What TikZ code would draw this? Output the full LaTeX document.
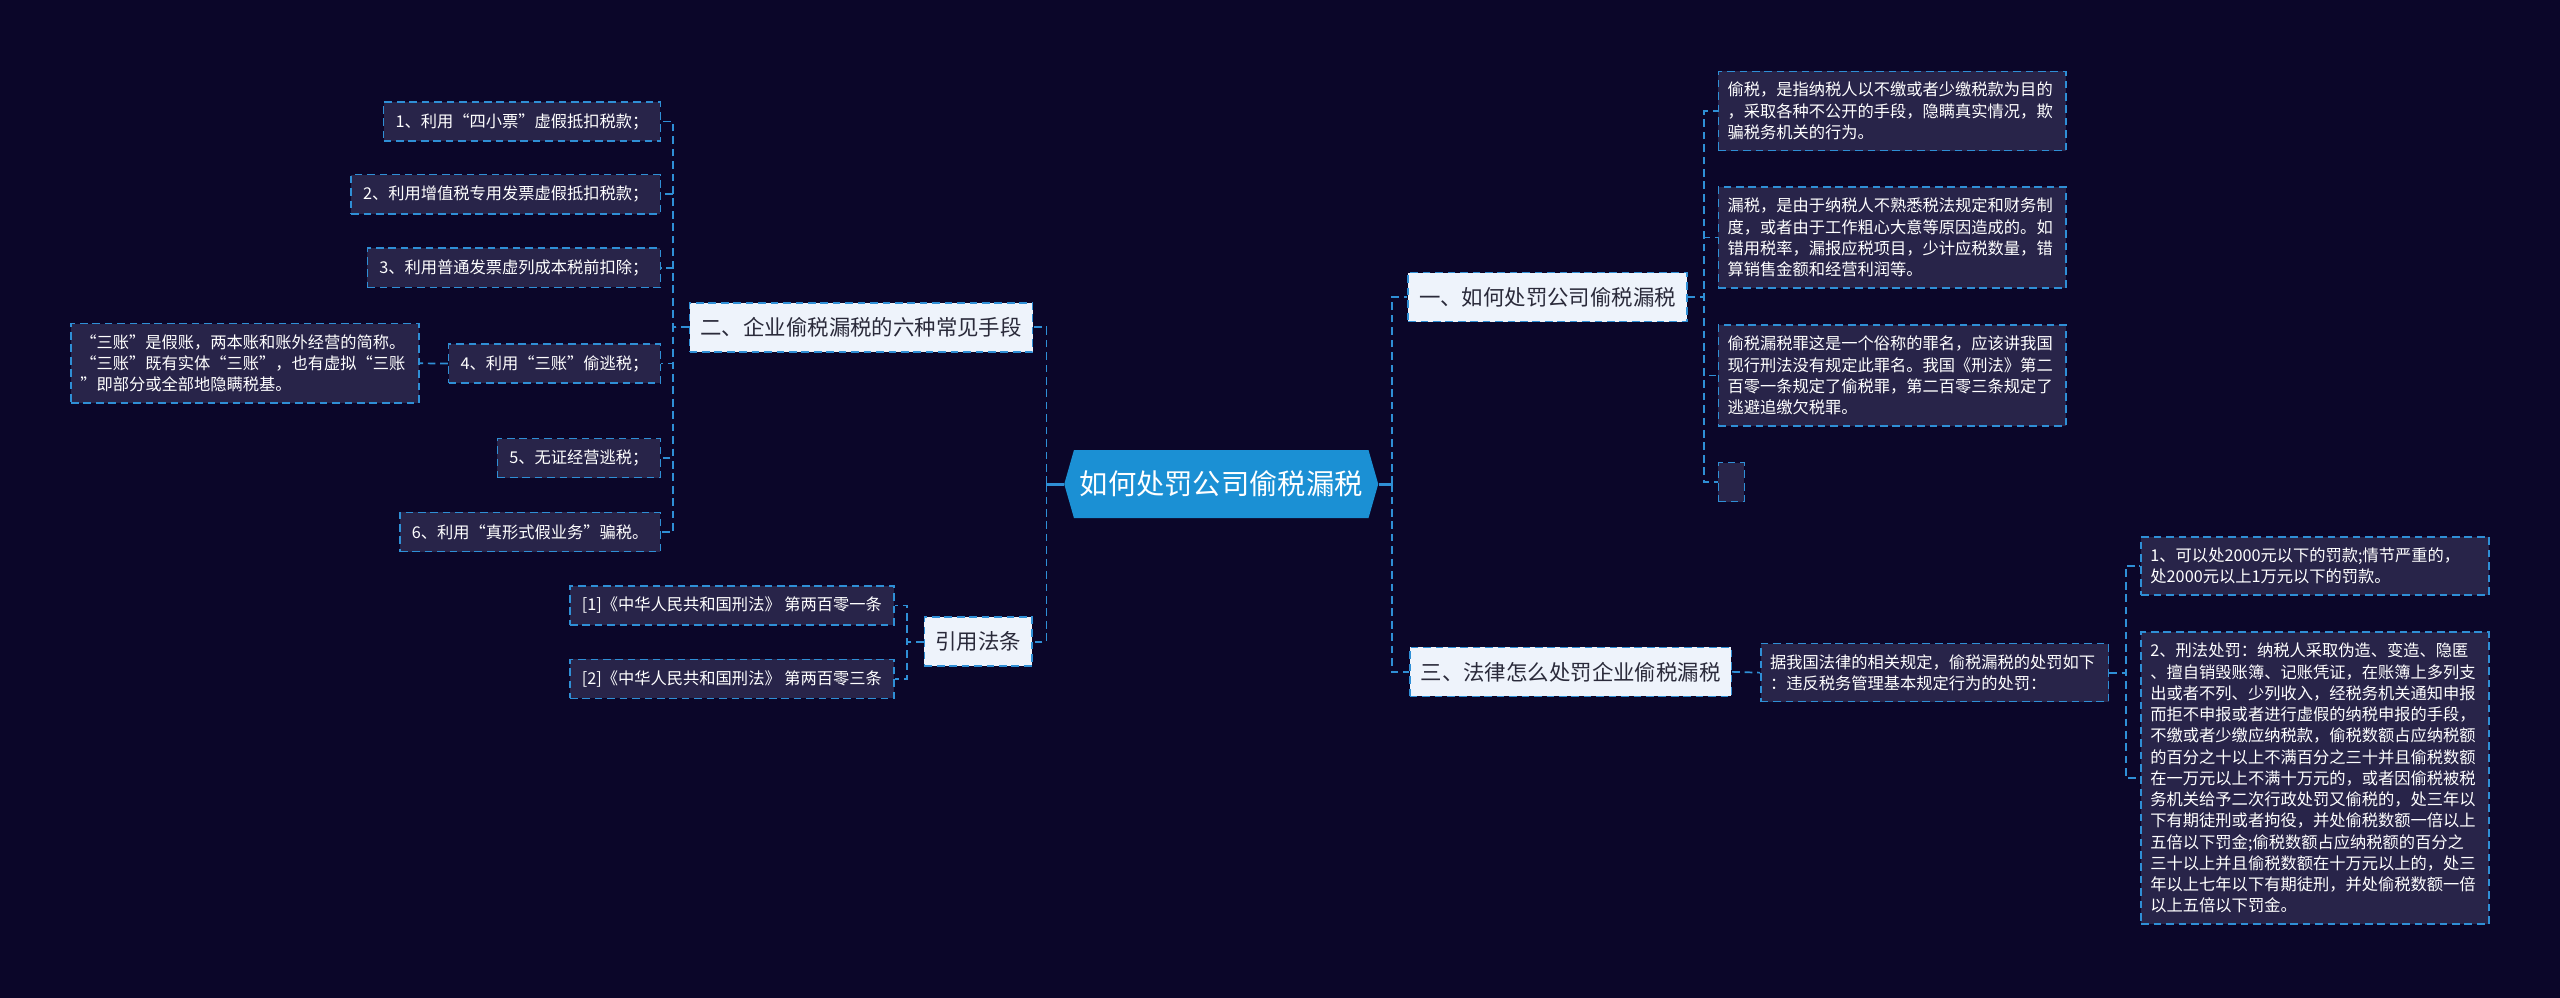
\documentclass[tikz,border=0pt]{standalone}
\usepackage{fontspec}
\setmainfont{Noto Sans CJK SC}
\usetikzlibrary{shapes.symbols}
\definecolor{bgnavy}{HTML}{0B0629}
\definecolor{leaffill}{HTML}{282449}
\definecolor{linkblue}{HTML}{2F8FD6}
\definecolor{rootblue}{HTML}{1B90D4}
\definecolor{topicfill}{HTML}{EEF3FB}
\definecolor{topictext}{HTML}{2A2A3A}
\begin{document}
\begin{tikzpicture}[x=0.03cm, y=-0.03cm,
    link/.style={draw=linkblue, line width=0.9pt, dash pattern=on 4pt off 2.5pt},
    rootlink/.style={draw=linkblue, line width=1.6pt},
    root/.style={signal, signal to=east and west, signal pointer angle=148, fill=rootblue,
      text=white, font=\fontsize{14.8}{17}\selectfont, minimum width=5.77cm, minimum height=1.25cm, inner sep=0pt},
    topic/.style={fill=topicfill, draw=linkblue, line width=0.8pt, dash pattern=on 4pt off 2.5pt,
      text=topictext, font=\fontsize{11.2}{13}\selectfont, inner xsep=0.2cm, minimum height=0.9cm},
    leaf/.style={fill=leaffill, draw=linkblue, line width=0.8pt, dash pattern=on 4pt off 2.5pt,
      text=white, font=\fontsize{8.5}{11.1}\selectfont, inner xsep=0.22cm, inner ysep=0.2cm, minimum height=0.72cm},
    note/.style={leaf, text width=6.05cm, align=left, inner xsep=0.17cm}]
  \fill[bgnavy] (0,0) rectangle (1568,611);

  % centre
  \node[root] (root) at (748,296.5) {如何处罚公司偷税漏税};
  \coordinate (rl) at (641,296.5);
  \coordinate (rr) at (852.5,296.5);

  % main topics
  \node[topic, anchor=east] (t2) at (633,200.5) {二、企业偷税漏税的六种常见手段};
  \node[topic, anchor=east] (tlaw) at (632.5,393) {引用法条};
  \node[topic, anchor=west] (t1) at (862,182) {一、如何处罚公司偷税漏税};
  \node[topic, anchor=west] (t3) at (863,411.5) {三、法律怎么处罚企业偷税漏税};

  % six ways
  \node[leaf, anchor=east] (b21) at (405,74.5) {1、利用“四小票”虚假抵扣税款；};
  \node[leaf, anchor=east] (b22) at (405,119) {2、利用增值税专用发票虚假抵扣税款；};
  \node[leaf, anchor=east] (b23) at (405,164) {3、利用普通发票虚列成本税前扣除；};
  \node[leaf, anchor=east] (b24) at (405,222.7) {4、利用“三账”偷逃税；};
  \node[leaf, anchor=east] (b25) at (405,280.6) {5、无证经营逃税；};
  \node[leaf, anchor=east] (b26) at (405,325.9) {6、利用“真形式假业务”骗税。};
  \node[note, anchor=east] (b24x) at (257,222.5) {“三账”是假账，两本账和账外经营的简称。\\“三账”既有实体“三账”，也有虚拟“三账\\”即部分或全部地隐瞒税基。};

  % law articles
  \node[leaf, anchor=east] (c1) at (548,370.8) {[1]《中华人民共和国刑法》 第两百零一条};
  \node[leaf, anchor=east] (c2) at (548,415.8) {[2]《中华人民共和国刑法》 第两百零三条};

  % definitions
  \node[note, anchor=west] (a1) at (1052,68) {偷税，是指纳税人以不缴或者少缴税款为目的\\，采取各种不公开的手段，隐瞒真实情况，欺\\骗税务机关的行为。};
  \node[note, anchor=west] (a2) at (1052,145.5) {漏税，是由于纳税人不熟悉税法规定和财务制\\度，或者由于工作粗心大意等原因造成的。如\\错用税率，漏报应税项目，少计应税数量，错\\算销售金额和经营利润等。};
  \node[note, anchor=west] (a3) at (1052,230) {偷税漏税罪这是一个俗称的罪名，应该讲我国\\现行刑法没有规定此罪名。我国《刑法》第二\\百零一条规定了偷税罪，第二百零三条规定了\\逃避追缴欠税罪。};
  \node[leaf, anchor=west, minimum width=0.48cm] (a4) at (1052,295.3) {};

  % penalties
  \node[note, anchor=west] (d) at (1078,412) {据我国法律的相关规定，偷税漏税的处罚如下\\：违反税务管理基本规定行为的处罚：};
  \node[note, anchor=west] (e1) at (1311,346.6) {1、可以处2000元以下的罚款;情节严重的，\\处2000元以上1万元以下的罚款。};
  \node[note, anchor=west] (e2) at (1311,476.6) {2、刑法处罚：纳税人采取伪造、变造、隐匿\\、擅自销毁账簿、记账凭证，在账簿上多列支\\出或者不列、少列收入，经税务机关通知申报\\而拒不申报或者进行虚假的纳税申报的手段，\\不缴或者少缴应纳税款，偷税数额占应纳税额\\的百分之十以上不满百分之三十并且偷税数额\\在一万元以上不满十万元的，或者因偷税被税\\务机关给予二次行政处罚又偷税的，处三年以\\下有期徒刑或者拘役，并处偷税数额一倍以上\\五倍以下罚金;偷税数额占应纳税额的百分之\\三十以上并且偷税数额在十万元以上的，处三\\年以上七年以下有期徒刑，并处偷税数额一倍\\以上五倍以下罚金。};

  % connectors
  \draw[rootlink] (root.west) -- (rl);
  \draw[rootlink] (root.east) -- (rr);
  \draw[link] (rl) |- (t2.east);
  \draw[link] (rl) |- (tlaw.east);
  \draw[link] (rr) |- (t1.west);
  \draw[link] (rr) |- (t3.west);
  \foreach \i in {1,...,6}
    \draw[link] (t2.west) -- ++(-9.5,0) |- (b2\i.east);
  \draw[link] (b24.west) -- (b24x.east);
  \foreach \i in {1,2}
    \draw[link] (tlaw.west) -- ++(-10,0) |- (c\i.east);
  \foreach \i in {1,...,4}
    \draw[link] (t1.east) -- ++(10,0) |- (a\i.west);
  \draw[link] (t3.east) -- (d.west);
  \foreach \i in {1,2}
    \draw[link] (d.east) -- ++(10,0) |- (e\i.west);
\end{tikzpicture}
\end{document}
